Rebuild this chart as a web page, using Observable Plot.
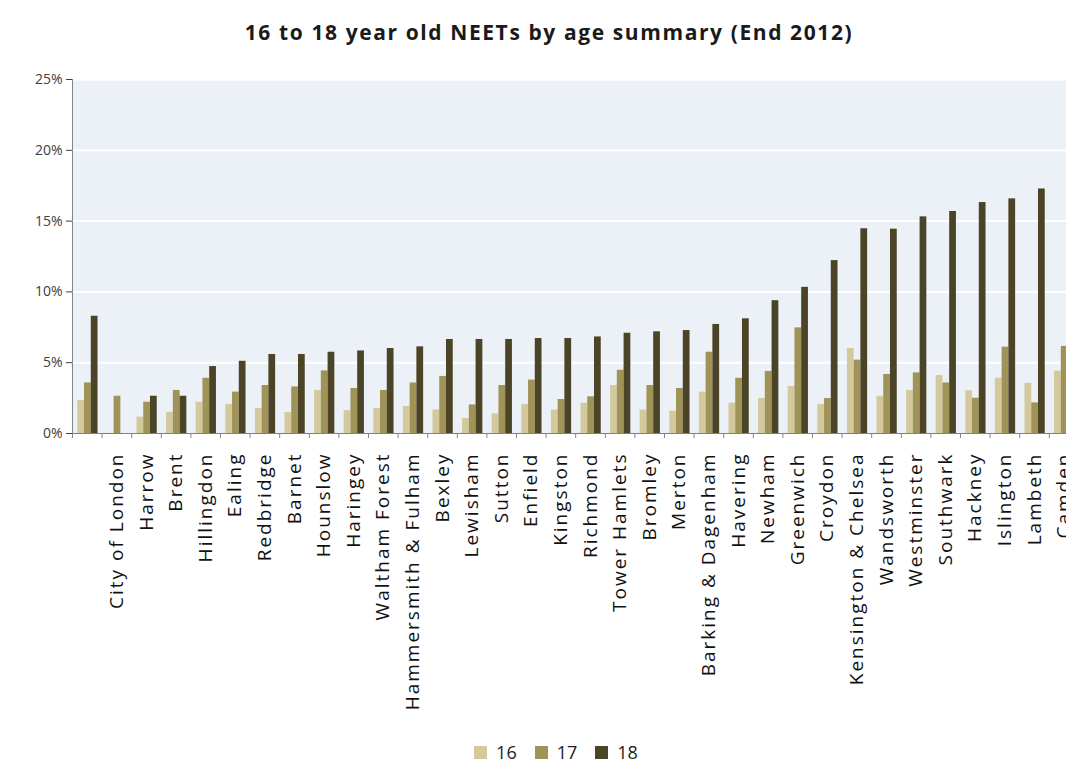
<!DOCTYPE html>
<html><head><meta charset="utf-8">
<script src="https://cdn.jsdelivr.net/npm/d3@7"></script>
<script src="https://cdn.jsdelivr.net/npm/@observablehq/plot@0.6"></script>
<style>
html,body{margin:0;padding:0;background:#fff;overflow:hidden;width:1066px;height:773px;}
#title{height:60px;box-sizing:border-box;padding-top:18px;padding-left:32px;text-align:center;font-family:"Open Sans";font-weight:bold;font-size:21px;letter-spacing:1.6px;color:#1a1a1a;line-height:28px;}
#chart svg{overflow:hidden;display:block;}
g[aria-label="x-axis tick label"] text{letter-spacing:2px;}
#legend{height:33px;display:flex;justify-content:center;align-items:center;padding-left:64px;}
</style></head><body>
<div id="title">16 to 18 year old NEETs by age summary (End 2012)</div>
<div id="chart"></div>
<div id="legend"></div>
<script>
const boroughs = ["", "City of London", "Harrow", "Brent", "Hillingdon", "Ealing", "Redbridge", "Barnet", "Hounslow", "Haringey", "Waltham Forest", "Hammersmith & Fulham", "Bexley", "Lewisham", "Sutton", "Enfield", "Kingston", "Richmond", "Tower Hamlets", "Bromley", "Merton", "Barking & Dagenham", "Havering", "Newham", "Greenwich", "Croydon", "Kensington & Chelsea", "Wandsworth", "Westminster", "Southwark", "Hackney", "Islington", "Lambeth", "Camden"];
const age16 = [2.33, null, 1.15, 1.5, 2.21, 2.05, 1.77, 1.48, 3.04, 1.62, 1.77, 1.91, 1.67, 1.06, 1.39, 2.05, 1.65, 2.14, 3.39, 1.65, 1.58, 2.92, 2.14, 2.47, 3.32, 2.05, 6.0, 2.63, 3.04, 4.1, 3.01, 3.9, 3.55, 4.4];
const age17 = [3.57, 2.63, 2.21, 3.04, 3.9, 2.92, 3.39, 3.29, 4.42, 3.18, 3.04, 3.57, 4.03, 2.02, 3.39, 3.77, 2.4, 2.59, 4.47, 3.39, 3.18, 5.74, 3.9, 4.38, 7.46, 2.47, 5.18, 4.17, 4.28, 3.57, 2.49, 6.1, 2.16, 6.15];
const age18 = [8.28, null, 2.63, 2.63, 4.73, 5.1, 5.58, 5.58, 5.74, 5.83, 6.0, 6.12, 6.64, 6.64, 6.64, 6.71, 6.71, 6.82, 7.08, 7.18, 7.27, 7.7, 8.1, 9.38, 10.32, 12.21, 14.46, 14.43, 15.3, 15.68, 16.31, 16.57, 17.27, 20.4];
const ages = ["16", "17", "18"];
const ageColors = ["#d3c99d", "#a09357", "#4c4427"];
const yTicks = [0, 5, 10, 15, 20, 25];

const series = [age16, age17, age18];
const rows = [];
boroughs.forEach((b, i) => series.forEach((arr, j) => rows.push({borough: b, age: ages[j], value: arr[i]})));

const W = 1066, H = 680, left = 72, right = 1078.4;
const step = (right - left) / boroughs.length;
const bw = step / (3 + 2 * 0.69);
const inset = (step - bw) / 2;

const bars = ages.map((a, j) => Plot.barY(rows, {
  filter: d => d.age === a, x: "borough", y: "value", fill: "age",
  insetLeft: inset, insetRight: inset, dx: (j - 1) * bw + 0.6
}));

const chart = Plot.plot({
  width: W, height: H,
  marginTop: 19, marginBottom: 307, marginLeft: left, marginRight: 0,
  style: {fontFamily: "Open Sans", background: "transparent", overflow: "hidden"},
  x: {domain: boroughs, range: [left, right], paddingInner: 0, paddingOuter: 0, round: false},
  y: {domain: [0, 25]},
  color: {domain: ages, range: ageColors},
  marks: [
    Plot.frame({fill: "#ecf1f8", stroke: null}),
    Plot.ruleY(yTicks.slice(1), {stroke: "#ffffff", strokeWidth: 2}),
    ...bars,
    Plot.ruleY([0], {stroke: "#7f7f7f"}),
    Plot.axisY({ticks: yTicks, tickFormat: d => d + "%", tickSize: 6, tickPadding: 4, fontSize: 14, color: "#404040", label: null}),
    Plot.frame({anchor: "left", stroke: "#868686"}),
    Plot.axisX({anchor: "bottom", tickSize: 5, tickFormat: () => "", dx: -step / 2, color: "#868686", label: null}),
    Plot.axisX({anchor: "bottom", tickSize: 0, tickPadding: 19, tickRotate: -90, fontSize: 19, color: "#111", label: null})
  ]
});
document.getElementById("chart").appendChild(chart);

const leg = Plot.legend({
  color: {type: "ordinal", domain: ages, range: ageColors},
  swatchSize: 13,
  style: {fontSize: "18px", fontFamily: "Open Sans", color: "#222"}
});
document.getElementById("legend").appendChild(leg);
</script>
</body></html>
